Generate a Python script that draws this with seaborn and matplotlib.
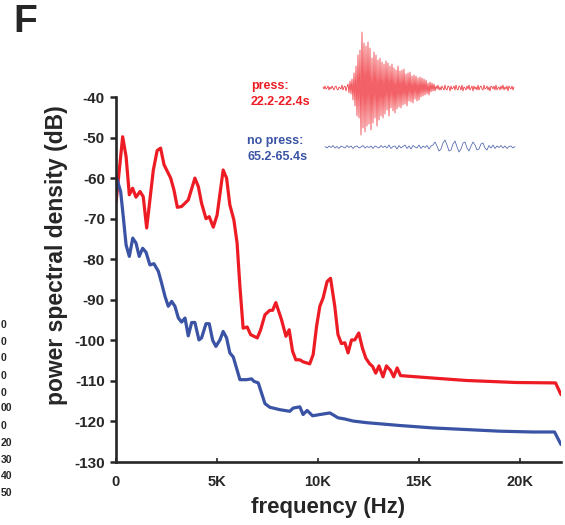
import numpy as np
import matplotlib
matplotlib.use('Agg')
import matplotlib.pyplot as plt
import seaborn as sns

# 頻譜資料 (kHz, dB)
freq_press = [0, 0.33, 0.5, 0.66, 0.82, 0.99, 1.19, 1.35, 1.52, 1.85,
              2.04, 2.21, 2.38, 2.71, 2.87, 3.04, 3.25, 3.58, 3.91, 4.08,
              4.24, 4.46, 4.62, 4.82, 5.01, 5.31, 5.48, 5.64, 5.84, 6.0,
              6.14, 6.3, 6.5, 6.67, 7.0, 7.16, 7.38, 7.62, 7.76, 7.92,
              8.2, 8.42, 8.58, 8.75, 8.91, 9.11, 9.27, 9.6, 9.77, 9.94,
              10.1, 10.26, 10.46, 10.63, 10.84, 11.0, 11.17, 11.34, 11.5, 11.67,
              11.83, 12.03, 12.21, 12.38, 12.57, 12.71, 12.87, 13.03, 13.23, 13.4,
              13.6, 13.76, 13.93, 14.1, 15.7, 17.36, 19.83, 21.78, 22.05]
psd_press = [-66.1, -49.8, -54.7, -64.1, -62.5, -64.7, -63.3, -64.6, -72.3, -58,
             -53.2, -52.6, -56.7, -60, -62.9, -67.2, -67, -65.4, -60, -62.1,
             -66.2, -70, -69.5, -72.1, -69.1, -58, -60, -66.6, -70.3, -76,
             -86.7, -97, -96.7, -98.6, -99.4, -97.5, -93.7, -92.6, -92.6, -90.7,
             -94.9, -99, -97.4, -102.7, -104.8, -104.8, -105.3, -105.8, -103.5, -96.5,
             -91.6, -89.6, -85.5, -84.7, -91.6, -98.6, -100.8, -100.6, -103.1, -99.9,
             -99.9, -98.2, -101.9, -104.4, -105.8, -106.4, -108.1, -106.3, -109, -106.3,
             -107.4, -109, -106.8, -108.7, -109.3, -109.9, -110.4, -110.5, -113.4]

freq_nopress = [0, 0.03, 0.23, 0.36, 0.5, 0.66, 0.83, 0.99, 1.15, 1.32,
                1.49, 1.68, 1.88, 2.1, 2.26, 2.43, 2.59, 2.76, 2.92, 3.09,
                3.25, 3.42, 3.58, 3.75, 3.91, 4.11, 4.24, 4.46, 4.62, 4.79,
                4.95, 5.15, 5.31, 5.48, 5.64, 5.81, 5.97, 6.14, 6.47, 6.72,
                6.83, 7.05, 7.38, 7.62, 8.12, 8.61, 8.78, 9.11, 9.27, 9.47,
                9.74, 10.1, 10.6, 11.0, 11.34, 11.75, 12.41, 14.06, 15.7, 17.36,
                19.0, 20.65, 21.73, 22.05]
psd_nopress = [-63.5, -60, -63.3, -69.5, -76.5, -79.3, -74.8, -76, -79.3, -77.3,
               -78.3, -81.4, -81.1, -83, -85.9, -89.2, -91.6, -90.4, -91.6, -94.5,
               -95.5, -94.5, -98.9, -95.6, -95.6, -99.9, -99.4, -95.9, -95.9, -100,
               -101.5, -99.9, -97.8, -99.4, -103.1, -104.1, -106.8, -109.7, -109.7, -109.5,
               -110.1, -110.5, -115.6, -116.5, -117.1, -117.5, -116.7, -116.4, -118.3, -117.3,
               -118.6, -118.3, -117.9, -119.1, -119.4, -119.9, -120.3, -121, -121.6, -122,
               -122.4, -122.6, -122.6, -125.7]

yticks = [-130, -120, -110, -100, -90, -80, -70, -60, -50, -40]
xticks = [0, 5000, 10000, 15000, 20000]
xtick_labels = ['0', '5K', '10K', '15K', '20K']

# 波形 (任意單位)
wave_press = [1, -1, 2, -1, 0, 2, -2, 1, -1, 2, 0, -2, 1, 2, -1, -2, 1, 0, -1, 3, -2, 1, 2, -3, 1,
              4, -5, 7, -6, 9, -12, 15, -18, 22, -28, 33, -30, 38,
              -47, 56, -40, 45, -44, 42, -38, 46,
              -36, 40, -42, 30, -35, 36, -30, 33, -38, 28, -32, 30,
              -28, 26, -30, 24, -26, 27, -22, 25, -28, 22, -20, 24, -23, 20, -25, 18, -21, 22, -19, 17,
              -20, 18, -17, 19, -16, 14, -18, 15, -13, 16, -14, 12, -15, 13, -11, 12, -13, 10, -12, 11,
              -9, 10, -8, 9, -7, 8, -6, 5, -7, 6, -4, 5, -3, 4, -3,
              2, -1, 3, -2, 1, -2, 2, 0, -2, 3, -1, -2, 2, 1, -3, 2, -1, 0, 2, -2, 3, -1, -2, 2, 1,
              -2, 3, -3, 1, 0, -2, 2, -1, 3, -2, 0, 2, -3, 2, -1, 1, -2, 3, -2, 1, 2, -1, -2, 3, -1,
              0, 2, -2, 1, -3, 2, 1, -1, 2, -2, 3, -2, 0, 1, -2, 2, -1, 3, -2, 1, -1, 2, -3, 2, 0,
              -1, 2, -2, 1]
wave_nopress = [0.5, -1, 1, -0.5, 1.5, -1, 0.5, -1.5, 1, 0, -1, 1.5, -0.5, 1, -1.5, 0.5, 1, -1,
                0, 1.5, -1, 0.5, -0.5, 1, -1.5, 1, 0, -1, 1.5, -0.5, 1, -1, 2, -1.5, 0.5, 1,
                -2, 1.5, -1, 0.5, 2, -1.5, 1, -2, 1.5, 0, -1, 2, -1.5, 1, -0.5, 1.5, -2, 1,
                2, 5, 1, -4, -2, 4, 7, 2, -4, -3, 3, 6, 0, -5, -2, 4, 5, -1, -4, 1,
                5, 2, -3, -2, 3, 4, -1, -3,
                1.5, -1, 2, -1.5, 1, -0.5, 1.5, -1, 1, -1.5, 0.5, 1, -1, 0.5]

# 左側鄰圖殘留的刻度文字
edge_labels = ['0', '0', '0', '0', '0', '00', '0', '20', '30', '40', '50']
edge_y = [325, 342, 358, 376, 393, 408, 426, 443, 460, 476, 493]

red = '#ED1C24'
blue = '#3A53A4'

sns.set_style('ticks')
plt.rcParams['font.family'] = ['Liberation Sans', 'DejaVu Sans']
plt.rcParams['font.weight'] = 'bold'
plt.rcParams['axes.unicode_minus'] = False

W, H = 565, 525
fig = plt.figure(figsize=(W / 100, H / 100), dpi=100)

# 主圖
ax = fig.add_axes([116 / W, 1 - 462 / H, 445 / W, 365 / H])
sns.lineplot(x=np.array(freq_press) * 1000, y=psd_press, ax=ax, color=red, lw=2.3)
sns.lineplot(x=np.array(freq_nopress) * 1000, y=psd_nopress, ax=ax, color=blue, lw=2.3)
ax.set_xlim(0, 22050)
ax.set_ylim(-130, -40)
ax.set_yticks(yticks)
ax.set_yticklabels([str(v) for v in yticks])
ax.set_xticks(xticks)
ax.set_xticklabels(xtick_labels)
for s in ['top', 'right']:
    ax.spines[s].set_visible(False)
for s in ['left', 'bottom']:
    ax.spines[s].set_linewidth(1.9)
ax.tick_params(axis='y', direction='out', length=4, width=1.8, pad=4, labelsize=11)
ax.tick_params(axis='x', direction='in', length=3, width=1.2, pad=9, labelsize=10.5)
for lab in ax.get_xticklabels() + ax.get_yticklabels():
    lab.set_fontweight('bold')

fig.text(328 / W, 1 - 507 / H, 'frequency (Hz)', fontsize=16, fontweight='bold',
         ha='center', va='center')
fig.text(57 / W, 1 - 255 / H, 'power spectral density (dB)', fontsize=16.5,
         fontweight='bold', rotation=90, ha='center', va='center')

# 面板字母
fig.text(13 / W, 1 - 4 / H, 'F', fontsize=28, fontweight='bold', ha='left', va='top')

for t, yy in zip(edge_labels, edge_y):
    fig.text(0.5 / W, 1 - yy / H, t, fontsize=7.5, fontweight='bold', ha='left', va='center')

# 波形插圖
ins = fig.add_axes([320 / W, 1 - 160 / H, 200 / W, 132 / H])
t_press = np.linspace(3, 194, len(wave_press))
t_nopress = np.linspace(5, 195, len(wave_nopress))
sns.lineplot(x=t_press, y=72 + np.array(wave_press), ax=ins, color=red, lw=0.55, alpha=0.9)
sns.lineplot(x=t_nopress, y=13 + np.array(wave_nopress), ax=ins, color=blue, lw=0.55, alpha=0.9)
ins.set_xlim(0, 200)
ins.set_ylim(0, 132)
ins.axis('off')

fig.text(251 / W, 1 - 88.5 / H, 'press:', color=red, fontsize=9, fontweight='bold',
         ha='left', va='baseline')
fig.text(251 / W, 1 - 105 / H, '22.2-22.4s', color=red, fontsize=9, fontweight='bold',
         ha='left', va='baseline')
fig.text(247 / W, 1 - 144 / H, 'no press:', color=blue, fontsize=9, fontweight='bold',
         ha='left', va='baseline')
fig.text(247 / W, 1 - 160.5 / H, '65.2-65.4s', color=blue, fontsize=9, fontweight='bold',
         ha='left', va='baseline')

fig.savefig('out.png', dpi=100)
